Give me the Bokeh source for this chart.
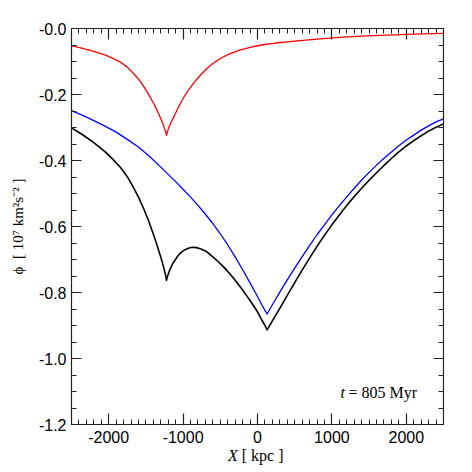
import numpy as np
from bokeh.plotting import figure
from bokeh.layouts import column
from bokeh.models import LinearAxis, FixedTicker, CustomJSTickFormatter, Label, Range1d, Div
from bokeh.embed import file_html
from bokeh.resources import INLINE

# ---- data ----
red_x = [-2500, -2350, -2200, -2050, -1950, -1841, -1750, -1663, -1600, -1528, -1460, -1394, -1350,
         -1304, -1280, -1250, -1235, -1223, -1211, -1195, -1169, -1130, -1079, -1010, -945, -856,
         -766, -680, -600, -500, -400, -250, -100, 50, 250, 500, 800, 1100, 1400, 1750, 2100, 2500]
red_y = [-0.052, -0.060, -0.069, -0.080, -0.090, -0.102, -0.117, -0.137, -0.153, -0.176, -0.201, -0.228,
         -0.248, -0.271, -0.284, -0.303, -0.313, -0.324, -0.313, -0.302, -0.288, -0.270, -0.246, -0.216,
         -0.192, -0.165, -0.141, -0.121, -0.106, -0.091, -0.079, -0.066, -0.057, -0.050, -0.044, -0.038,
         -0.032, -0.027, -0.023, -0.020, -0.017, -0.015]

blue_x = [-2500, -2350, -2200, -2050, -1900, -1750, -1600, -1450, -1300, -1200, -1100, -1000, -900,
          -800, -700, -600, -500, -400, -300, -200, -100, 0, 60, 100, 130, 200, 300, 400, 500, 600,
          700, 800, 900, 1000, 1100, 1200, 1300, 1400, 1500, 1600, 1700, 1800, 1900, 2000, 2100,
          2200, 2300, 2400, 2500]
blue_y = [-0.249, -0.263, -0.279, -0.296, -0.314, -0.336, -0.359, -0.388, -0.420, -0.442, -0.464, -0.487,
          -0.511, -0.536, -0.563, -0.591, -0.622, -0.656, -0.692, -0.731, -0.771, -0.812, -0.838, -0.854,
          -0.865, -0.837, -0.799, -0.762, -0.726, -0.691, -0.658, -0.625, -0.595, -0.565, -0.537, -0.510,
          -0.484, -0.459, -0.436, -0.414, -0.393, -0.374, -0.355, -0.338, -0.323, -0.308, -0.295, -0.283,
          -0.274]

black_x = [-2500, -2350, -2200, -2050, -1950, -1841, -1750, -1663, -1600, -1528, -1460, -1394, -1350,
           -1304, -1280, -1250, -1235, -1223, -1211, -1195, -1169, -1130, -1079, -1035, -980, -930,
           -880, -820, -760, -700, -676, -600, -530, -453, -360, -290, -228, -150, -80, -4, 50, 100,
           130, 200, 300, 400, 500, 600, 700, 800, 900, 1000, 1100, 1200, 1300, 1400, 1500, 1600,
           1700, 1800, 1900, 2000, 2100, 2200, 2300, 2400, 2500]
black_y = [-0.301, -0.322, -0.346, -0.373, -0.395, -0.421, -0.449, -0.484, -0.511, -0.547, -0.585, -0.627,
           -0.657, -0.690, -0.708, -0.734, -0.748, -0.763, -0.752, -0.741, -0.726, -0.709, -0.692, -0.680,
           -0.671, -0.666, -0.663, -0.664, -0.668, -0.674, -0.678, -0.692, -0.706, -0.723, -0.746, -0.766,
           -0.784, -0.808, -0.831, -0.857, -0.880, -0.900, -0.913, -0.886, -0.848, -0.809, -0.770, -0.732,
           -0.696, -0.660, -0.627, -0.595, -0.565, -0.536, -0.509, -0.484, -0.460, -0.437, -0.415, -0.394,
           -0.374, -0.356, -0.340, -0.325, -0.311, -0.299, -0.289]

x_ticks = [-2000, -1000, 0, 1000, 2000]
x_tick_labels = ["-2000", "-1000", "0", "1000", "2000"]
y_ticks = [-1.2, -1.0, -0.8, -0.6, -0.4, -0.2, 0.0]
y_tick_labels = ["-1.2", "-1.0", "-0.8", "-0.6", "-0.4", "-0.2", "-0.0"]

x_label_italic = "X"
x_label_rest = "[ kpc ]"
y_label = "\u03d5\u00a0\u00a0[ 10\u2077 km\u00b2s\u207b\u00b2 ]"
note_italic = "t"
note_rest = "= 805 Myr"

# ---- figure ----
p = figure(width=464, height=450, x_range=Range1d(-2500, 2500), y_range=Range1d(-1.2, 0.0),
           output_backend="svg", toolbar_location=None,
           x_axis_location=None, y_axis_location=None,
           min_border_left=71, min_border_right=21, min_border_top=28, min_border_bottom=26)
p.outline_line_color = None
p.xgrid.visible = False
p.ygrid.visible = False
p.background_fill_color = "white"
p.border_fill_color = "white"

x_minor = [float(v) for v in np.arange(-2500, 2501, 100)]
y_minor = [round(-1.2 + 0.05 * i, 2) for i in range(25)]

fmt_code = """
let best = 0; let d = Infinity;
for (let i = 0; i < vals.length; i++) { const e = Math.abs(vals[i] - tick); if (e < d) { d = e; best = i; } }
return labs[best];
"""
blank = CustomJSTickFormatter(code="return '';")

def style(ax, ticks, minor, major_len, labels):
    ax.ticker = FixedTicker(ticks=ticks, minor_ticks=minor)
    ax.axis_line_color = "#222222"
    ax.axis_line_width = 1.2
    ax.major_tick_line_color = "#222222"
    ax.minor_tick_line_color = "#222222"
    ax.major_tick_line_width = 1.2
    ax.minor_tick_line_width = 1
    ax.major_tick_in = major_len
    ax.major_tick_out = 0
    ax.minor_tick_in = 5
    ax.minor_tick_out = 0
    ax.major_label_text_font = "Liberation Sans"
    ax.major_label_text_font_size = "16px"
    ax.major_label_text_color = "black"
    if labels is None:
        ax.formatter = blank
    else:
        ax.formatter = CustomJSTickFormatter(args=dict(vals=ticks, labs=labels), code=fmt_code)

bottom = LinearAxis()
style(bottom, x_ticks, x_minor, 11, x_tick_labels)
bottom.major_label_standoff = 6
p.add_layout(bottom, "below")

top = LinearAxis()
style(top, x_ticks, x_minor, 11, None)
p.add_layout(top, "above")

left = LinearAxis()
style(left, y_ticks, y_minor, 10, y_tick_labels)
left.major_label_standoff = 5
left.axis_label = y_label
left.axis_label_text_font = "Liberation Serif"
left.axis_label_text_font_style = "normal"
left.axis_label_text_font_size = "15px"
left.axis_label_text_color = "black"
left.axis_label_standoff = 10
p.add_layout(left, "left")

right = LinearAxis()
style(right, y_ticks, y_minor, 10, None)
p.add_layout(right, "right")

# ---- curves ----
p.line(red_x, red_y, line_color="#ff0000", line_width=1.3, line_join="round")
p.line(blue_x, blue_y, line_color="#0000ff", line_width=1.3, line_join="round")
p.line(black_x, black_y, line_color="#000000", line_width=1.6, line_join="round")

# ---- in-frame note ----
p.add_layout(Label(x=269, y=32, x_units="screen", y_units="screen", text=note_italic,
                   text_font="Liberation Serif", text_font_style="italic", text_font_size="16px",
                   text_color="black", text_baseline="alphabetic"))
p.add_layout(Label(x=277, y=32, x_units="screen", y_units="screen", text=note_rest,
                   text_font="Liberation Serif", text_font_size="16px",
                   text_color="black", text_baseline="alphabetic"))

# ---- x axis title (italic X + upright unit) as real HTML text below the figure ----
xlabel = Div(
    text=('<div style="font-family:\'Liberation Serif\',serif; font-size:16px; line-height:16px; '
          'color:black; white-space:nowrap; padding-left:228px; position:relative; top:-2px">'
          '<i>%s</i> %s</div>') % (x_label_italic, x_label_rest),
    width=464, height=16, margin=(0, 0, 0, 0))

layout = column(p, xlabel, spacing=0)

open("out.html", "w").write(file_html(layout, INLINE))
